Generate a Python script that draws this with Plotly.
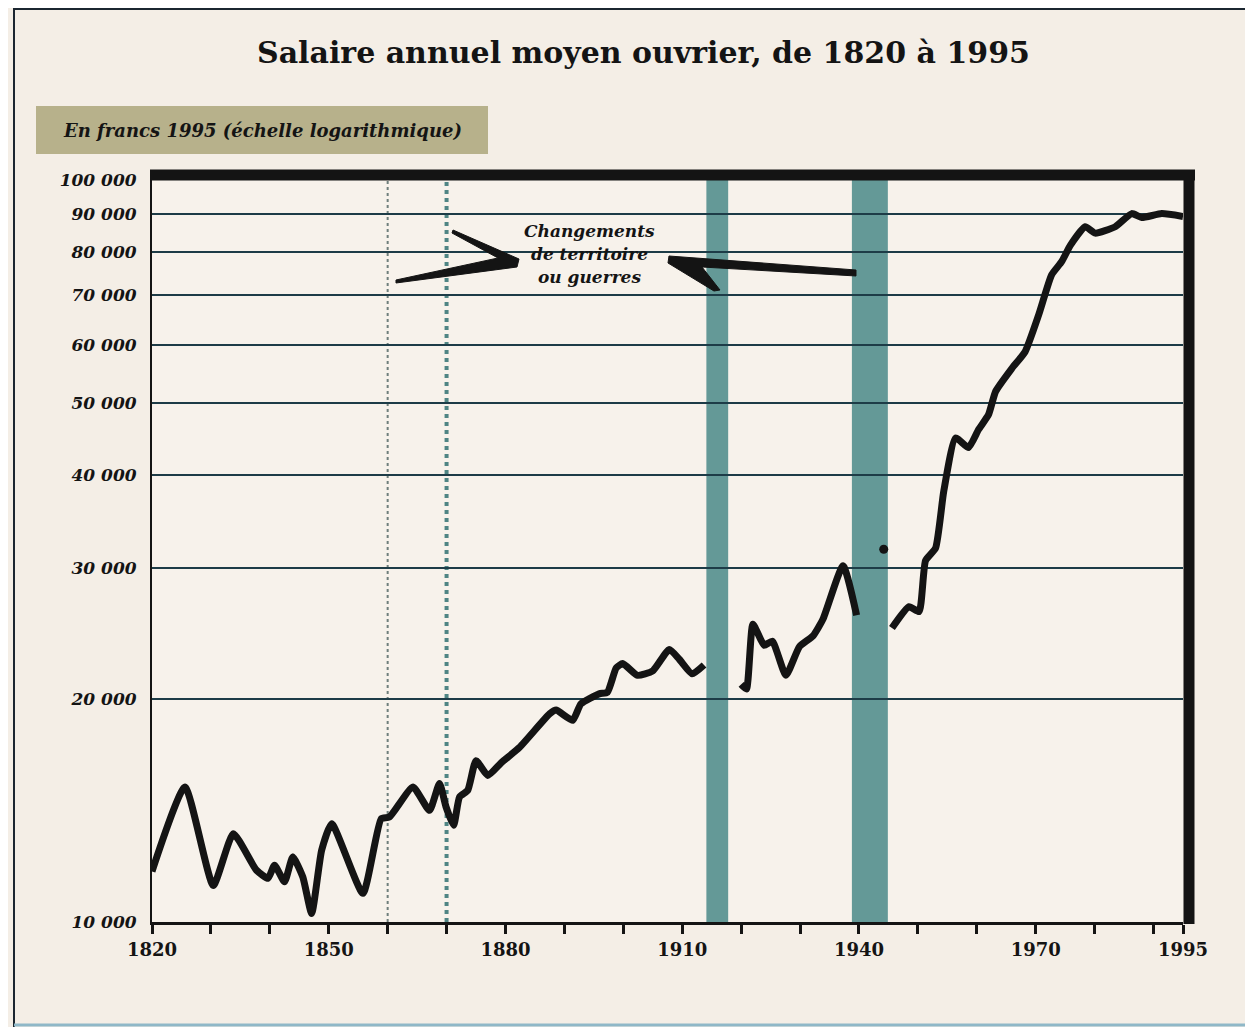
import plotly.graph_objects as go

# ---- data ----
years_a = [1820, 1825.6, 1830.4, 1833.8, 1837.7, 1839.7, 1840.8, 1842.5, 1843.9, 1845.6,
           1847.1, 1848.8, 1850.5, 1855.8, 1858.9, 1860.3, 1864.3, 1867.1, 1868.8, 1869.9,
           1871.2, 1872.2, 1873.6, 1875, 1877, 1879.3, 1882.4, 1887.5, 1888.6, 1891.4,
           1892.8, 1895.9, 1897.3, 1898.8, 1899.9, 1902.4, 1905, 1907.8, 1909.5, 1911.7, 1913.7]
wages_a = [11700, 15200, 11200, 13150, 11750, 11450, 11930, 11330, 12240, 11500,
           10270, 12500, 13570, 10930, 13780, 13850, 15200, 14140, 15370, 14300,
           13500, 14740, 15050, 16500, 15760, 16400, 17200, 19080, 19300, 18700,
           19680, 20300, 20400, 22000, 22300, 21500, 21800, 23300, 22600, 21600, 22200]

years_b = [1920, 1920.9, 1922, 1923.9, 1925.3, 1927.6, 1929.9, 1932.2, 1933.9, 1937.3, 1939.6]
wages_b = [20900, 20600, 25200, 23600, 23900, 21500, 23500, 24300, 25600, 30200, 25900]

years_c = [1945.6, 1948.5, 1950.2, 1951.3, 1953, 1954.4, 1956.4, 1958.6, 1960.3, 1962,
           1963.2, 1966, 1968.2, 1970.5, 1972.7, 1974.4, 1975.9, 1978.4, 1980.1, 1983.5,
           1986.3, 1988, 1991.4, 1995]
wages_c = [24900, 26600, 26200, 30700, 31900, 38100, 44900, 43600, 46100, 48300,
           51900, 55800, 58700, 65800, 74500, 77600, 81700, 86500, 84800, 86500,
           90100, 89000, 90100, 89300]

isolated_year = [1944.2]
isolated_wage = [31800]

war_bands = [(1914.1, 1917.8), (1938.8, 1944.9)]
territory_lines = [1860, 1870]

y_tickvals = [10000, 20000, 30000, 40000, 50000, 60000, 70000, 80000, 90000, 100000]
y_ticktext = ["10 000", "20 000", "30 000", "40 000", "50 000", "60 000",
              "70 000", "80 000", "90 000", "100 000"]
x_tickvals = [1820, 1830, 1840, 1850, 1860, 1870, 1880, 1890, 1900, 1910, 1920,
              1930, 1940, 1950, 1960, 1970, 1980, 1990, 1995]
x_labelled = [1820, 1850, 1880, 1910, 1940, 1970, 1995]
x_ticktext = [str(v) if v in x_labelled else "" for v in x_tickvals]

title_text = "Salaire annuel moyen ouvrier, de 1820 à 1995"
subtitle_text = "En francs 1995 (échelle logarithmique)"
note_lines = ["Changements", "de territoire", "ou guerres"]

# ---- layout helpers (pixel -> paper); page body adds an 8px offset ----
OFF = 8
W, H = 1253, 1027
L, R, T, B = 152, 1183, 180, 922
def px(x):
    return (x - L) / (R - L)
def py(y):
    return (B - y) / (B - T)

SERIF = "DejaVu Serif"
INK = "#141414"
BG = "#f4eee6"

fig = go.Figure()

line_style = dict(color=INK, width=7, shape="spline", smoothing=0.5)
for xs, ys in [(years_a, wages_a), (years_b, wages_b), (years_c, wages_c)]:
    fig.add_trace(go.Scatter(x=xs, y=ys, mode="lines", line=line_style,
                             hoverinfo="x+y", showlegend=False))
fig.add_trace(go.Scatter(x=isolated_year, y=isolated_wage, mode="markers",
                         marker=dict(color=INK, size=9), showlegend=False))

shapes = []
# war / territory bands
for x0, x1 in war_bands:
    shapes.append(dict(type="rect", xref="x", yref="paper", x0=x0, x1=x1, y0=0, y1=1,
                       fillcolor="#3f8282", opacity=0.8, line=dict(width=0), layer="below"))
shapes.append(dict(type="line", xref="x", yref="paper", x0=territory_lines[0], x1=territory_lines[0],
                   y0=0, y1=1, line=dict(color="#6f7f7c", width=2, dash="dot"), layer="below"))
shapes.append(dict(type="line", xref="x", yref="paper", x0=territory_lines[1], x1=territory_lines[1],
                   y0=0, y1=1, line=dict(color="#4f8584", width=4, dash="dot"), layer="below"))

# thick top and right frame
shapes.append(dict(type="line", xref="paper", yref="paper", x0=px(150), x1=px(1195),
                   y0=py(175), y1=py(175), line=dict(color=INK, width=11)))
shapes.append(dict(type="line", xref="paper", yref="paper", x0=px(1189), x1=px(1189),
                   y0=py(170), y1=py(924), line=dict(color=INK, width=11)))

# subtitle highlight
shapes.append(dict(type="rect", xref="paper", yref="paper", x0=px(36), x1=px(488),
                   y0=py(154), y1=py(106), fillcolor="#aca67a", opacity=0.85,
                   line=dict(width=0), layer="below"))

# page rules
shapes.append(dict(type="line", xref="paper", yref="paper", x0=px(14), x1=px(1253),
                   y0=py(8), y1=py(8), line=dict(color="#1b2630", width=4)))
shapes.append(dict(type="line", xref="paper", yref="paper", x0=px(14), x1=px(14),
                   y0=py(8), y1=py(1027), line=dict(color="#1b2630", width=2)))
shapes.append(dict(type="line", xref="paper", yref="paper", x0=px(14), x1=px(1253),
                   y0=py(1025), y1=py(1025), line=dict(color="#8fb8c8", width=3)))

# arrow wedges pointing to the label
def poly(points):
    return "M " + " L ".join(f"{px(a):.5f},{py(b):.5f}" for a, b in points) + " Z"
shapes.append(dict(type="path", xref="paper", yref="paper",
                   path=poly([(453, 230), (519, 259), (517, 267), (396, 283),
                              (396, 280), (498, 258), (452, 233)]),
                   fillcolor=INK, line=dict(color=INK, width=1)))
shapes.append(dict(type="path", xref="paper", yref="paper",
                   path=poly([(669, 256), (856, 270), (856, 276), (702, 267),
                              (720, 290), (714, 291), (668, 263)]),
                   fillcolor=INK, line=dict(color=INK, width=1)))

annotations = [
    dict(text=f"<b>{title_text}</b>", xref="paper", yref="paper", x=px(643), y=py(52),
         showarrow=False, xanchor="center", yanchor="middle",
         font=dict(family=SERIF, size=30, color=INK)),
    dict(text=f"<b><i>{subtitle_text}</i></b>", xref="paper", yref="paper", x=px(262), y=py(130),
         showarrow=False, xanchor="center", yanchor="middle",
         font=dict(family=SERIF, size=18, color=INK)),
]
for i, t in enumerate(note_lines):
    annotations.append(dict(text=f"<b><i>{t}</i></b>", xref="paper", yref="paper",
                            x=px(589), y=py(231 + 23 * i), showarrow=False,
                            xanchor="center", yanchor="middle",
                            font=dict(family=SERIF, size=17, color=INK)))

fig.update_layout(
    width=W - OFF, height=H - OFF,
    margin=dict(l=L - OFF, r=W - R, t=T - OFF, b=H - B),
    paper_bgcolor=BG, plot_bgcolor="#f7f2eb",
    shapes=shapes, annotations=annotations, showlegend=False,
    xaxis=dict(range=[1820, 1995], tickvals=x_tickvals, ticktext=x_ticktext,
               ticks="outside", ticklen=9, tickwidth=3, tickcolor=INK,
               showline=True, linewidth=3, linecolor=INK, showgrid=False, zeroline=False,
               tickfont=dict(family=SERIF, size=18, color=INK, weight="bold")),
    yaxis=dict(type="log", range=[4, 5], tickvals=y_tickvals, ticktext=y_ticktext,
               ticks="", showline=True, linewidth=2, linecolor=INK,
               showgrid=True, gridcolor="#1d3c47", gridwidth=2, ticklabelstandoff=10,
               tickfont=dict(family=SERIF, size=17, color=INK, weight="bold", style="italic")),
)

fig.write_html("out.html")
